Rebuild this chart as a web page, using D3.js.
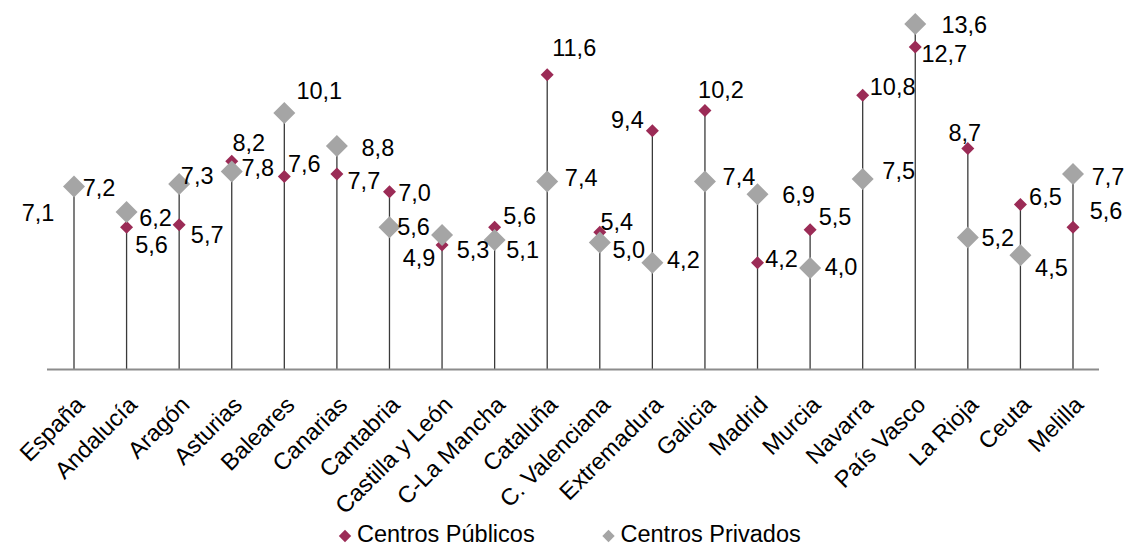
<!DOCTYPE html>
<html><head><meta charset="utf-8">
<script src="https://cdn.jsdelivr.net/npm/d3@7"></script>
<style>
html,body{margin:0;padding:0;background:#fff;}
svg{display:block;font-family:"Liberation Sans",Arial,sans-serif;}
</style></head>
<body>
<svg id="chart" width="1128" height="547"></svg>
<script>
const categories = ["España","Andalucía","Aragón","Asturias","Baleares","Canarias","Cantabria","Castilla y León","C-La Mancha","Cataluña","C. Valenciana","Extremadura","Galicia","Madrid","Murcia","Navarra","País Vasco","La Rioja","Ceuta","Melilla"];
const publicos = [7.1,5.6,5.7,8.2,7.6,7.7,7.0,4.9,5.6,11.6,5.4,9.4,10.2,4.2,5.5,10.8,12.7,8.7,6.5,5.6];
const privados = [7.2,6.2,7.3,7.8,10.1,8.8,5.6,5.3,5.1,7.4,5.0,4.2,7.4,6.9,4.0,7.5,13.6,5.2,4.5,7.7];
const seriesNames = ["Centros Públicos","Centros Privados"];

// label placement offsets (layout only)
const pubLabelOffset = [[-36,24],[25,18],[28,10],[17,-18],[20,-13],[27,7],[25,1],[-23,13],[25,-11],[27,-27],[17,-11],[-25,-11],[16,-21],[24,-4],[25,-13],[30,-8],[29,7],[-3,-16],[25,-8],[33,-16]];
const privLabelOffset = [[25,1],[29,6],[18,-8],[26,-4],[35,-22],[41,2],[24,0],[31,15],[28,10],[34,-4],[29,7],[31,-3],[34,-5],[41,1],[31,-1],[36,-8],[49,1],[30,0],[31,13],[35,3]];

const colPub = "#9B2B56", colPriv = "#A5A5A5";
const FS = 23.5;
const svg = d3.select("#chart");
const x = d3.scalePoint().domain(categories).range([74,1073]);
const y = d3.scaleLinear().domain([0,14]).range([369.5,13.9]);
const fmt = v => d3.format(".1f")(v).replace(".", ",");
const diamond = r => `M0,${-r}L${r},0L0,${r}L${-r},0Z`;

// drop lines
svg.append("g").selectAll("line").data(categories).join("line")
  .attr("x1", d=>x(d)).attr("x2", d=>x(d))
  .attr("y1", y(0))
  .attr("y2", (d,i)=>y(Math.max(publicos[i],privados[i])))
  .attr("stroke","#3a3a3a").attr("stroke-width",1.3);

// axis
const axisG = svg.append("g").attr("transform",`translate(0,${y(0)})`)
  .call(d3.axisBottom(x).tickSize(0).tickFormat(""));
axisG.select(".domain").remove();
axisG.append("line").attr("x1",47).attr("x2",1099).attr("stroke","#8c8c8c").attr("stroke-width",2);

// category labels
svg.append("g").selectAll("text").data(categories).join("text")
  .attr("transform", d=>`translate(${x(d)+6},${y(0)+31}) rotate(-45)`)
  .attr("text-anchor","end").attr("dy","0.35em")
  .attr("font-size",FS).attr("fill","#000").text(d=>d);

// markers: public then private (private on top)
svg.append("g").selectAll("path").data(categories).join("path")
  .attr("transform",(d,i)=>`translate(${x(d)},${y(publicos[i])})`)
  .attr("d",diamond(6.5)).attr("fill",colPub);
svg.append("g").selectAll("path").data(categories).join("path")
  .attr("transform",(d,i)=>`translate(${x(d)},${y(privados[i])})`)
  .attr("d",diamond(11)).attr("fill",colPriv);

// data labels
svg.append("g").selectAll("text").data(categories).join("text")
  .attr("x",(d,i)=>x(d)+pubLabelOffset[i][0])
  .attr("y",(d,i)=>y(publicos[i])+pubLabelOffset[i][1])
  .attr("text-anchor","middle").attr("dy","0.35em")
  .attr("font-size",FS).attr("fill","#000").text((d,i)=>fmt(publicos[i]));
svg.append("g").selectAll("text").data(categories).join("text")
  .attr("x",(d,i)=>x(d)+privLabelOffset[i][0])
  .attr("y",(d,i)=>y(privados[i])+privLabelOffset[i][1])
  .attr("text-anchor","middle").attr("dy","0.35em")
  .attr("font-size",FS).attr("fill","#000").text((d,i)=>fmt(privados[i]));

// legend
const legend = [{name:seriesNames[0],color:colPub,x:345},{name:seriesNames[1],color:colPriv,x:608.5}];
const lg = svg.append("g").selectAll("g").data(legend).join("g")
  .attr("transform",d=>`translate(${d.x},536)`);
lg.append("path").attr("d",diamond(6.2)).attr("fill",d=>d.color);
lg.append("text").attr("x",12).attr("y",6).attr("font-size",FS).attr("fill","#000").text(d=>d.name);
</script>
</body></html>
